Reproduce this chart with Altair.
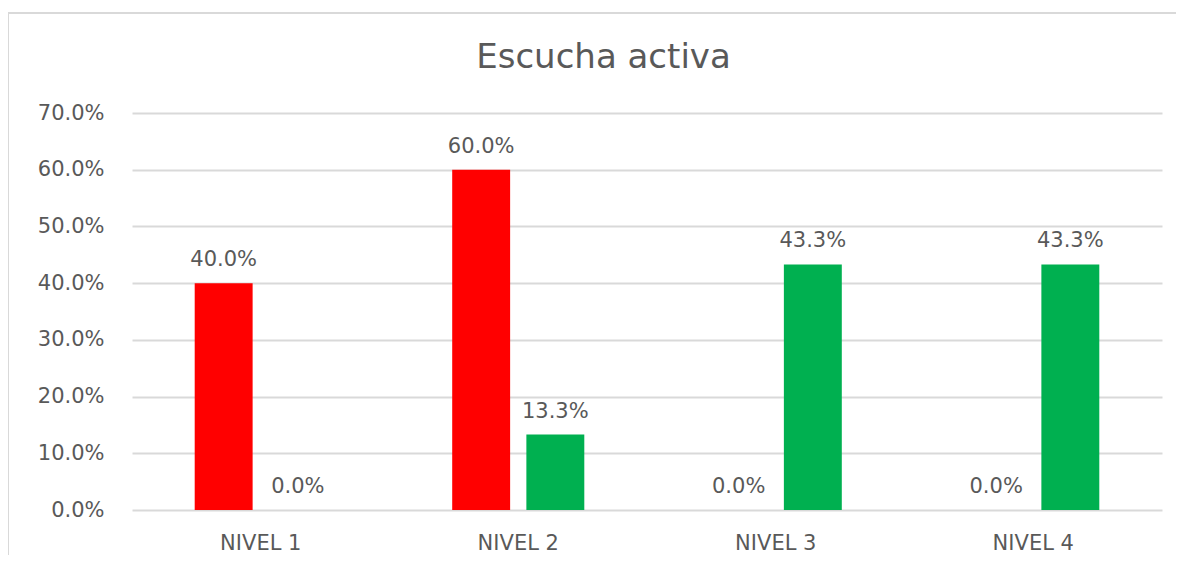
import altair as alt
import pandas as pd

categories = ["NIVEL 1", "NIVEL 2", "NIVEL 3", "NIVEL 4"]
series_names = ["Serie 1", "Serie 2"]
serie1 = [0.400, 0.600, 0.000, 0.000]
serie2 = [0.000, 0.133, 0.433, 0.433]
colors = ["#FF0000", "#00B050"]
title_text = "Escucha activa"
y_ticks = [0.0, 0.1, 0.2, 0.3, 0.4, 0.5, 0.6, 0.7]

FONT = "DejaVu Sans"
TXT = "#595959"
GRID = "#D9D9D9"

rows = []
for i, c in enumerate(categories):
    rows.append({"nivel": c, "serie": series_names[0], "valor": serie1[i]})
    rows.append({"nivel": c, "serie": series_names[1], "valor": serie2[i]})
df = pd.DataFrame(rows)

W, H = 1030, 397

base = alt.Chart(df).encode(
    x=alt.X(
        "nivel:N",
        sort=categories,
        scale=alt.Scale(paddingInner=0.487, paddingOuter=0.2435),
        axis=alt.Axis(
            title=None, labelAngle=0, domain=False, ticks=False,
            labelPadding=22, labelFont=FONT, labelFontSize=21, labelColor=TXT,
        ),
    ),
    xOffset=alt.XOffset(
        "serie:N", sort=series_names,
        scale=alt.Scale(paddingInner=0.219, paddingOuter=0),
    ),
    y=alt.Y(
        "valor:Q",
        scale=alt.Scale(domain=[0, 0.7], nice=False, zero=True),
        axis=alt.Axis(
            title=None, format=".1%", values=y_ticks, domain=False, ticks=False,
            labelPadding=28, gridColor=GRID, gridWidth=2,
            labelFont=FONT, labelFontSize=21, labelColor=TXT,
        ),
    ),
)

bars = base.mark_bar().encode(
    color=alt.Color("serie:N", scale=alt.Scale(domain=series_names, range=colors), legend=None)
)

labels = base.mark_text(
    baseline="alphabetic", align="center", dy=-17, font=FONT, fontSize=21, color=TXT
).encode(text=alt.Text("valor:Q", format=".1%"))

tdf = pd.DataFrame({"t": [title_text]})

frame_top = alt.Chart(tdf).mark_rule(color=GRID, strokeWidth=2).encode(
    x=alt.value(-124), x2=alt.value(1044), y=alt.value(-100)
)
frame_left = alt.Chart(tdf).mark_rule(color=GRID, strokeWidth=2).encode(
    x=alt.value(-124), y=alt.value(-100), y2=alt.value(442)
)

title = alt.Chart(tdf).mark_text(
    font=FONT, fontSize=34, color=TXT, align="center", baseline="alphabetic"
).encode(text="t:N", x=alt.value(471.5), y=alt.value(-45))

chart = alt.layer(frame_top, frame_left, bars, labels, title).properties(
    width=W, height=H,
    padding={"left": 124, "top": 105, "right": 14, "bottom": 45},
    autosize=alt.AutoSizeParams(type="none"),
    background="white",
).configure_view(stroke=None)

chart.save("out.html", embed_options={"renderer": "svg", "actions": False})
